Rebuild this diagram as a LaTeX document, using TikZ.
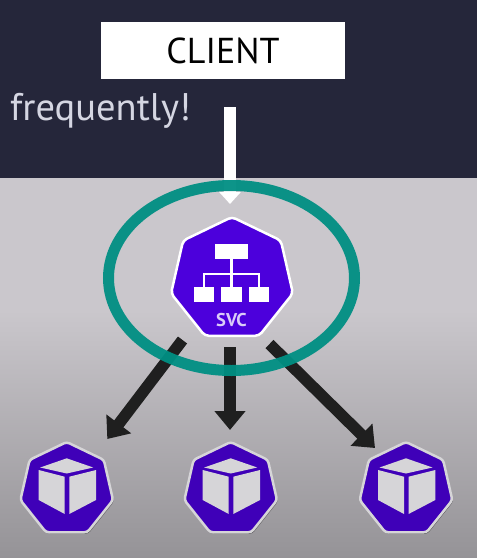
\documentclass[tikz,border=0pt]{standalone}
\usepackage{fontspec}
\setmainfont{PT Sans}
\usetikzlibrary{arrows.meta,shapes.geometric,shadows}
\definecolor{sotet}{HTML}{25263A}
\definecolor{szurke}{HTML}{CAC7CC}
\definecolor{alja}{HTML}{959397}
\definecolor{lila}{HTML}{4C00DC}
\definecolor{podlila}{HTML}{3F00B8}
\definecolor{teal}{HTML}{008F83}
\definecolor{kocka}{HTML}{D6D5D8}
\definecolor{halvany}{HTML}{D5D6E2}
\tikzset{
  nyil/.style={line width=11.5pt,draw=black!88,-{Triangle[length=19pt,width=30pt]}},
  feher/.style={line width=12pt,draw=white,-{Triangle[length=12pt,width=21pt]}},
  svcpoly/.style={regular polygon,regular polygon sides=7,minimum size=125pt,inner sep=0pt,
    draw=white,line width=2.5pt,fill=lila,rounded corners=4pt},
  podpoly/.style={regular polygon,regular polygon sides=7,minimum size=95pt,inner sep=0pt,
    draw=kocka,line width=2.5pt,fill=podlila,rounded corners=3pt,
    drop shadow={shadow xshift=1pt,shadow yshift=-1.5pt,opacity=.45,fill=black}},
  doboz/.style={fill=white,minimum width=20.5pt,minimum height=15pt,inner sep=0pt},
}
\begin{document}
\begin{tikzpicture}[x=1pt,y=-1pt]
  \useasboundingbox (0,0) rectangle (477,558);
  % background
  \fill[sotet] (0,0) rectangle (477,178);
  \fill[szurke] (0,178) rectangle (477,310);
  \shade[top color=szurke,bottom color=alja] (0,310) rectangle (477,558);
  % client
  \node[fill=white,minimum width=244pt,minimum height=56.5pt,inner sep=0pt,
    font=\fontsize{36}{40}\selectfont] (client) at (223,50.7) {CLIENT};
  \node[anchor=base west,inner sep=0pt,text=halvany,
    font=\fontsize{38.5}{42}\selectfont] (freq) at (10,120) {frequently!};
  \coordinate (be) at (230,107);
  \coordinate (becsucs) at (230,204);
  \draw[feher] (be) -- (becsucs);
  % service
  \node[svcpoly] (svc) at (232,279.5) {};
  \node[doboz,minimum width=32.5pt] (fo) at (231.5,251.2) {};
  \node[doboz] (a1) at (204.2,294.8) {};
  \node[doboz] (a2) at (231.5,294.8) {};
  \node[doboz] (a3) at (259.2,294.8) {};
  \draw[white,line width=2.2pt] (fo) -- (a2);
  \draw[white,line width=2.2pt] (a1.north) -- ++(0,-13) -| (a3.north);
  \node[text=lila!20!white,font=\fontsize{18.5}{20}\selectfont\bfseries,inner sep=0pt] (svclabel) at (231.5,320) {SVC};
  % pods
  \foreach \nev/\px in {bal/66.7,kozep/230.7,jobb/406}{
    \node[podpoly] (\nev) at (\px,489.5) {};
    \begin{scope}[shift={(\px,0)}]
      \fill[kocka] (0,458.3) -- (26.5,467.5) -- (0,473.5) -- (-26.5,467.5) -- cycle;
      \fill[kocka] (-28,470) -- (-2,476.7) -- (-2,514) -- (-28,500) -- cycle;
      \fill[kocka] (2.6,476.7) -- (29.3,470) -- (29.3,500) -- (2.6,514) -- cycle;
    \end{scope}
  }
  % arrows
  \coordinate (k1) at (182.5,340);
  \coordinate (k2) at (230,347);
  \coordinate (k3) at (269.5,344);
  \coordinate (v1) at (107.3,439);
  \coordinate (v2) at (230,430);
  \coordinate (v3) at (375,448);
  \draw[nyil] (k1) -- (v1);
  \draw[nyil] (k2) -- (v2);
  \draw[nyil] (k3) -- (v3);
  % ring
  \draw[teal,line width=11pt,opacity=.95] (231.5,278) ellipse (123 and 92.5);
\end{tikzpicture}
\end{document}
